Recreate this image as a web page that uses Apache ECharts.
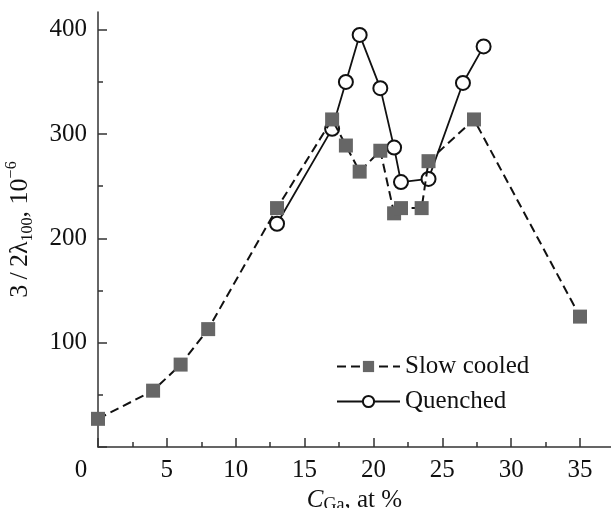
<!DOCTYPE html>
<html><head><meta charset="utf-8">
<script src="https://cdn.jsdelivr.net/npm/echarts@6/dist/echarts.min.js"></script>
<style>html,body{margin:0;padding:0;background:#fff}#c{width:611px;height:508px}</style>
</head><body><div id="c"></div>
<script>
const slowX = [0, 4, 6, 8, 13, 17, 18, 19, 20.5, 21.5, 22, 23.5, 24, 27.3, 35];
const slowY = [27, 54, 79, 113, 229, 314, 289, 264, 284, 224, 229, 229, 274, 314, 125];
const quenchX = [13, 17, 18, 19, 20.5, 21.5, 22, 24, 26.5, 28];
const quenchY = [214, 305, 350, 395, 344, 287, 254, 257, 349, 384];
const xMajorTicks = [0, 5, 10, 15, 20, 25, 30, 35];
const xMinorTicks = [2.5, 7.5, 12.5, 17.5, 22.5, 27.5, 32.5];
const yMajorTicks = [0, 100, 200, 300, 400];
const yMinorTicks = [50, 150, 250, 350];

const FONT = 'Liberation Serif';
const INK = '#111';
const AX = '#333';
const X_MAX = 37.25, Y_MAX = 417;

const chart = echarts.init(document.getElementById('c'));
const zip = (xs, ys) => xs.map((x, i) => [x, ys[i]]);

chart.setOption({
  animation: false,
  backgroundColor: '#fff',
  grid: { left: 98, right: 0, top: 12, bottom: 61, containLabel: false, outerBoundsMode: 'none' },
  legend: {
    orient: 'vertical', left: 331, top: 349, itemWidth: 63, itemHeight: 14, itemGap: 10,
    textStyle: { fontFamily: FONT, fontSize: 25, color: INK, lineHeight: 25 },
    data: ['Slow cooled', 'Quenched']
  },
  xAxis: [{
    type: 'value', min: 0, max: X_MAX,
    axisLine: { show: true, lineStyle: { color: AX, width: 1.5 } },
    axisTick: { show: true, inside: true, length: 9, customValues: xMajorTicks, lineStyle: { color: AX, width: 1.5 } },
    axisLabel: {
      customValues: xMajorTicks, margin: 11, color: INK, fontFamily: FONT, fontSize: 25,
      formatter: v => v === 0 ? '{z|0}' : String(v),
      rich: { z: { fontFamily: FONT, fontSize: 25, color: INK, padding: [0, 34, 0, 0] } }
    },
    splitLine: { show: false },
    name: '{i|C}{s|Ga}{n|, at %}', nameLocation: 'middle', nameGap: 33,
    nameTextStyle: {
      color: INK, fontFamily: FONT, fontSize: 25,
      rich: {
        i: { fontFamily: FONT, fontSize: 25, fontStyle: 'italic', color: INK, lineHeight: 28, verticalAlign: 'middle' },
        s: { fontFamily: FONT, fontSize: 18, color: INK, lineHeight: 16, verticalAlign: 'bottom' },
        n: { fontFamily: FONT, fontSize: 25, color: INK, lineHeight: 28, verticalAlign: 'middle' }
      }
    }
  }, {
    type: 'value', min: 0, max: X_MAX, position: 'bottom',
    axisLine: { show: false },
    axisTick: { show: true, inside: true, length: 5, customValues: xMinorTicks, lineStyle: { color: AX, width: 1.5 } },
    axisLabel: { show: false },
    splitLine: { show: false }
  }],
  yAxis: [{
    type: 'value', min: 0, max: Y_MAX,
    axisLine: { show: true, lineStyle: { color: AX, width: 1.5 } },
    axisTick: { show: true, inside: true, length: 9, customValues: yMajorTicks, lineStyle: { color: AX, width: 1.5 } },
    axisLabel: { customValues: yMajorTicks.filter(v => v > 0), margin: 11, color: INK, fontFamily: FONT, fontSize: 25 },
    splitLine: { show: false },
    name: '{a|3\u2009/\u20092λ}{b|100}{a|, 10}{c|−6}', nameLocation: 'middle', nameGap: 62, nameRotate: 90,
    nameTextStyle: {
      color: INK, fontFamily: FONT, fontSize: 26,
      rich: {
        a: { fontFamily: FONT, fontSize: 26, color: INK, lineHeight: 32, verticalAlign: 'middle' },
        b: { fontFamily: FONT, fontSize: 16, color: INK, lineHeight: 16, verticalAlign: 'bottom' },
        c: { fontFamily: FONT, fontSize: 16, color: INK, lineHeight: 16, verticalAlign: 'top' }
      }
    }
  }, {
    type: 'value', min: 0, max: Y_MAX, position: 'left',
    axisLine: { show: false },
    axisTick: { show: true, inside: true, length: 5, customValues: yMinorTicks, lineStyle: { color: AX, width: 1.5 } },
    axisLabel: { show: false },
    splitLine: { show: false }
  }],
  series: [{
    name: 'Slow cooled', type: 'line', z: 3, xAxisIndex: 0, yAxisIndex: 0,
    data: zip(slowX, slowY),
    symbol: 'rect', symbolSize: 14, clip: false,
    itemStyle: { color: '#666' },
    lineStyle: { color: INK, width: 2, type: [9, 5] }
  }, {
    name: 'Quenched', type: 'line', z: 2, xAxisIndex: 0, yAxisIndex: 0,
    data: zip(quenchX, quenchY),
    symbol: 'circle', symbolSize: 14, clip: false,
    itemStyle: { color: '#fff', borderColor: INK, borderWidth: 2 },
    lineStyle: { color: INK, width: 1.8 }
  }]
});
</script></body></html>
